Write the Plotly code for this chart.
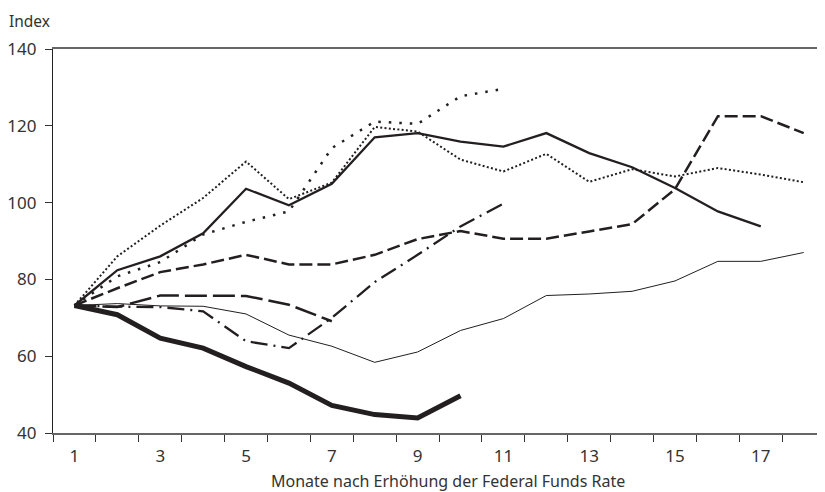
import plotly.graph_objects as go

months = list(range(1, 19))

thick_solid = [73.2, 70.8, 64.7, 62.1, 57.3, 53.0, 47.2, 44.8, 43.9, 49.7]
thin_solid = [73.2, 73.7, 73.1, 73.0, 71.0, 65.5, 62.6, 58.4, 61.1, 66.7, 69.8, 75.8, 76.2, 76.9, 79.6, 84.7, 84.7, 87.0]
long_dashed = [73.2, 72.8, 75.8, 75.8, 75.7, 73.4, 69.1]
dash_dot = [73.2, 72.9, 72.8, 71.7, 63.9, 62.1, 70.0, 79.3, 86.4, 93.8, 99.7]
dashed = [73.2, 77.7, 81.9, 83.9, 86.4, 83.9, 83.9, 86.4, 90.5, 92.6, 90.6, 90.6, 92.5, 94.4, 103.5, 122.5, 122.5, 118.1]
solid = [73.2, 82.4, 86.0, 92.0, 103.6, 99.3, 104.9, 117.0, 118.1, 115.9, 114.6, 118.1, 112.9, 109.2, 103.8, 97.7, 93.8]
dense_dotted = [73.2, 86.0, 94.0, 101.2, 110.7, 100.9, 105.2, 119.7, 118.5, 111.2, 108.1, 112.7, 105.4, 108.7, 106.8, 109.0, 107.3, 105.3]
sparse_dotted = [73.2, 80.8, 84.5, 91.7, 95.0, 97.7, 114.2, 121.1, 120.5, 127.7, 129.6]

x_tick_vals = [1, 3, 5, 7, 9, 11, 13, 15, 17]
x_tick_text = ["1", "3", "5", "7", "9", "11", "13", "15", "17"]
x_boundaries = [i + 0.5 for i in range(0, 19)]
y_tick_vals = [40, 60, 80, 100, 120, 140]

INK = "#231f20"
FONT = "Noto Sans"

# page body has an 8px default margin; compensate in figure coordinates
OFF = 8
UNIT = 42.88  # screen px per month
L, T, B, R = 53.3 - OFF, 49.3 - OFF, 492 - (433.5 - OFF), 0
PW = 825 - L - R
PH = 492 - T - B
X_MAX = 0.5 + PW / UNIT


def px(fx):
    return (fx - OFF - L) / PW


def py(fy):
    return ((433.5 - OFF) - (fy - OFF)) / PH


series = [
    (thin_solid, 1.0, "solid"),
    (long_dashed, 2.5, "22px,6px"),
    (dash_dot, 2.3, "17px,6px,2px,6px"),
    (dashed, 2.5, "13px,5px"),
    (sparse_dotted, 2.5, "2.5px,8px"),
    (dense_dotted, 2.0, "2px,2.3px"),
    (solid, 2.3, "solid"),
    (thick_solid, 5.0, "solid"),
]

fig = go.Figure()
for vals, w, dash in series:
    fig.add_trace(go.Scatter(
        x=months[:len(vals)], y=vals, mode="lines",
        line=dict(color=INK, width=w, dash=dash),
        showlegend=False, hoverinfo="skip",
    ))

fig.update_layout(
    width=825, height=492,
    margin=dict(l=L, r=R, t=T, b=B),
    paper_bgcolor="white", plot_bgcolor="white",
    font=dict(family=FONT, size=16, color="#333"),
    showlegend=False,
    xaxis=dict(
        range=[0.5, X_MAX],
        tickmode="array", tickvals=x_tick_vals, ticktext=x_tick_text,
        ticks="outside", ticklen=7, tickcolor="rgba(0,0,0,0)",
        showgrid=False, zeroline=False,
        showline=True, linecolor="#666", linewidth=1.5, mirror=True,
        tickfont=dict(size=17, color="#333"),
        minor=dict(tickmode="array", tickvals=x_boundaries, ticks="outside",
                   ticklen=7, tickcolor="#333", tickwidth=1.2, showgrid=False),
    ),
    yaxis=dict(
        range=[40, 140],
        tickmode="array", tickvals=y_tick_vals,
        ticks="outside", ticklen=7, tickcolor="#333", tickwidth=1.2,
        ticklabelstandoff=5,
        showgrid=False, zeroline=False,
        showline=True, linecolor="#222", linewidth=1.2,
        tickfont=dict(size=17, color="#333"),
    ),
    annotations=[
        dict(text="Index", xref="paper", yref="paper",
             x=px(7), y=py(21),
             xanchor="left", yanchor="middle", showarrow=False,
             font=dict(size=15.5, color="#333", family=FONT)),
        dict(text="Monate nach Erhöhung der Federal Funds Rate",
             xref="paper", yref="paper",
             x=px(448), y=py(482),
             xanchor="center", yanchor="middle", showarrow=False,
             font=dict(size=16, color="#333", family=FONT)),
    ],
)

fig.write_html("out.html")
